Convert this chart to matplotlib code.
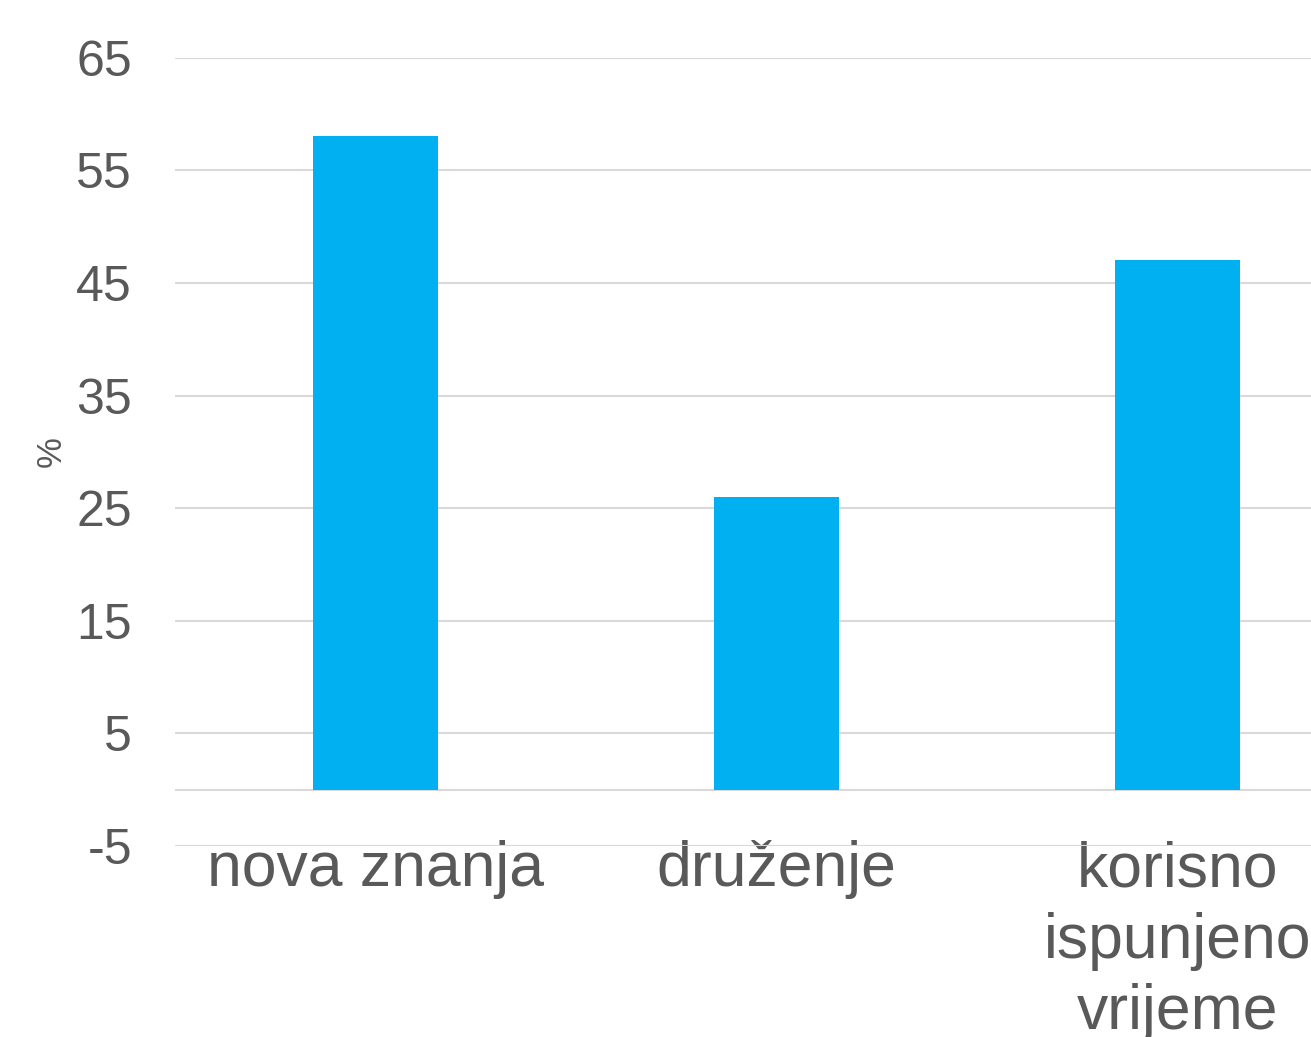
import matplotlib
matplotlib.use("Agg")
import matplotlib.pyplot as plt

# ====== Data ======
categories = ["nova znanja", "druženje", "korisno\nispunjeno\nvrijeme"]
values = [58, 26, 47]
y_ticks = [-5, 5, 15, 25, 35, 45, 55, 65]

plt.rcParams["font.family"] = ["Liberation Sans", "DejaVu Sans"]
text_color = "#595959"

fig = plt.figure(figsize=(13.11, 10.37), dpi=100)
ax = fig.add_axes([0.1335, 0.1842, 0.9176, 0.7602])

x = range(len(categories))
ax.bar(x, values, width=0.31, color="#00B0F0", zorder=3)

ax.set_xlim(-0.5, len(categories) - 0.5)
ax.set_ylim(-5, 65)
ax.set_yticks(y_ticks)
ax.set_yticklabels([str(t) for t in y_ticks])
ax.grid(axis="y", color="#d9d9d9", linewidth=1.5, zorder=0)
ax.axhline(0, color="#d9d9d9", linewidth=1.5, zorder=2)

ax.set_xticks(list(x))
ax.set_xticklabels(categories, fontsize=45, color=text_color, linespacing=1.27)
ax.tick_params(axis="x", length=0, pad=-4)
ax.tick_params(axis="y", length=0, pad=31, labelsize=36, labelcolor=text_color)

# y label sits close to the left edge
fig.text(51 / 1311, 1 - 452 / 1037, "%", rotation=90, fontsize=25,
         color=text_color, ha="center", va="center")

for s in ax.spines.values():
    s.set_visible(False)

fig.savefig("out.png", dpi=100)
